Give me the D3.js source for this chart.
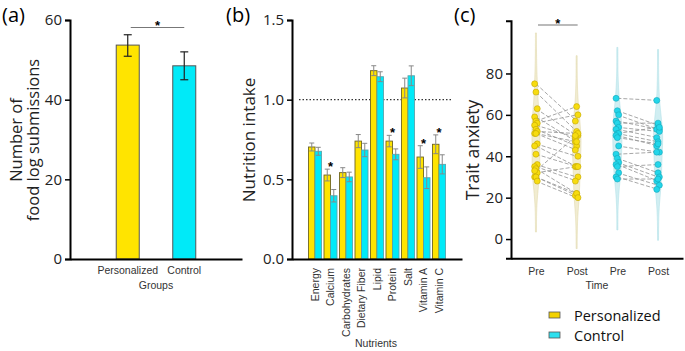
<!DOCTYPE html>
<html>
<head>
<meta charset="utf-8">
<script src="https://cdn.jsdelivr.net/npm/d3@7"></script>
<style>
  body { margin: 0; background: #fff; }
  svg { display: block; }
  .tick line { stroke: #000; stroke-width: 1.5; }
  .domain { stroke: #000; stroke-width: 2; }
</style>
</head>
<body>
<script>
// ---- data ----
var groups = ["Personalized", "Control"];
var subMean = [53.7, 48.5];
var subLow = [50.9, 45.0];
var subHigh = [56.3, 52.0];

var nutrients = ["Energy", "Calcium", "Carbohydrates", "Dietary Fiber", "Lipid", "Protein", "Salt", "Vitamin A", "Vitamin C"];
var persMean = [0.703, 0.527, 0.542, 0.740, 1.182, 0.740, 1.073, 0.640, 0.720];
var persErr = [0.025, 0.037, 0.031, 0.041, 0.031, 0.036, 0.062, 0.071, 0.059];
var ctrlMean = [0.676, 0.397, 0.515, 0.684, 1.144, 0.657, 1.150, 0.510, 0.594];
var ctrlErr = [0.025, 0.039, 0.030, 0.042, 0.031, 0.034, 0.062, 0.068, 0.060];
var sigNutrients = ["Calcium", "Protein", "Vitamin A", "Vitamin C"];

var timeLabels = ["Pre", "Post", "Pre", "Post"];
var persPre  = [75, 71, 63, 59, 57, 56, 55, 53, 52, 51, 51, 46, 45, 41, 36, 35, 34, 32, 30, 30, 28, 33];
var persPost = [57, 52, 50, 47, 64, 60, 49, 45, 51, 43, 47, 40, 35, 35, 30, 28, 22, 35, 21, 22, 20, 50];
var ctrlPre  = [68, 62, 60, 57, 56, 54, 53, 51, 51, 50, 49, 45, 41, 39, 37, 36, 35, 32, 30, 29];
var ctrlPost = [67, 55, 53, 53, 56, 52, 49, 47, 54, 45, 46, 42, 42, 32, 30, 28, 36, 26, 24, 29];

var yellow = "#ffe400";
var cyan = "#00eaf8";

var w = 685, h = 351;
var bigFont = "'Open Sans', 'Noto Sans', sans-serif";
var smallFont = "'Liberation Sans', Arial, sans-serif";

var svg = d3.select("body").append("svg")
    .attr("width", w)
    .attr("height", h);

function star(g, x, y) {
  g.append("text")
    .attr("x", x)
    .attr("y", y + 7)
    .attr("text-anchor", "middle")
    .style("font-family", smallFont)
    .style("font-weight", "bold")
    .style("font-size", "13px")
    .text("*");
}

function panelLabel(x, txt) {
  svg.append("text")
    .attr("x", x)
    .attr("y", 22)
    .style("font-family", bigFont)
    .style("font-size", "20px")
    .text(txt);
}

function styleTicks(g) {
  g.selectAll(".tick text")
    .style("font-family", bigFont)
    .style("font-size", "15px")
    .attr("fill", "#222");
}

// ---- panel (a) ----
var ga = svg.append("g");
var xA = d3.scaleBand().domain(groups).range([70, 242]).paddingInner(0.593).paddingOuter(0.818);
var yA = d3.scaleLinear().domain([0, 60]).range([259, 20]);

ga.selectAll("rect")
  .data(groups)
  .enter()
  .append("rect")
  .attr("x", function(d) { return xA(d); })
  .attr("y", function(d, i) { return yA(subMean[i]); })
  .attr("width", xA.bandwidth())
  .attr("height", function(d, i) { return yA(0) - yA(subMean[i]); })
  .attr("fill", function(d, i) { return i == 0 ? yellow : cyan; })
  .attr("stroke", "#555")
  .attr("stroke-width", 1);

groups.forEach(function(d, i) {
  var cx = xA(d) + xA.bandwidth() / 2;
  ga.append("line").attr("x1", cx).attr("x2", cx)
    .attr("y1", yA(subLow[i])).attr("y2", yA(subHigh[i]))
    .attr("stroke", "#222").attr("stroke-width", 1.2);
  [subLow[i], subHigh[i]].forEach(function(v) {
    ga.append("line").attr("x1", cx - 4).attr("x2", cx + 4)
      .attr("y1", yA(v)).attr("y2", yA(v))
      .attr("stroke", "#222").attr("stroke-width", 1.2);
  });
});

var axA = ga.append("g")
  .attr("transform", "translate(70,0)")
  .call(d3.axisLeft(yA).tickValues([0, 20, 40, 60]).tickSizeOuter(0).tickSize(5).tickPadding(3));
styleTicks(axA);

var axAx = ga.append("g")
  .attr("transform", "translate(0,259)")
  .call(d3.axisBottom(xA).tickSize(0).tickSizeOuter(0).tickPadding(8));
axAx.selectAll(".tick text")
  .style("font-family", smallFont)
  .style("font-size", "10.5px")
  .attr("fill", "#333");

ga.append("text")
  .attr("x", 156).attr("y", 289)
  .attr("text-anchor", "middle")
  .style("font-family", smallFont)
  .style("font-size", "10.5px")
  .attr("fill", "#333")
  .text("Groups");

ga.append("text")
  .attr("transform", "translate(22,140) rotate(-90)")
  .attr("text-anchor", "middle")
  .style("font-family", bigFont)
  .style("font-size", "16.5px")
  .attr("fill", "#222")
  .text("Number of");
ga.append("text")
  .attr("transform", "translate(39,140) rotate(-90)")
  .attr("text-anchor", "middle")
  .style("font-family", bigFont)
  .style("font-size", "16.5px")
  .attr("fill", "#222")
  .text("food log submissions");

var sigAx1 = xA(groups[0]) + xA.bandwidth() / 2 + 3;
var sigAx2 = xA(groups[1]) + xA.bandwidth() / 2;
ga.append("line").attr("x1", sigAx1).attr("x2", sigAx2)
  .attr("y1", 27.5).attr("y2", 27.5)
  .attr("stroke", "#777").attr("stroke-width", 1.2);
star(ga, (sigAx1 + sigAx2) / 2, 23);

panelLabel(2, "(a)");

// ---- panel (b) ----
var gb = svg.append("g");
var xB = d3.scaleBand().domain(nutrients).range([292, 462]).paddingInner(0.161).paddingOuter(1.065);
var xB2 = d3.scaleBand().domain(groups).range([0, xB.bandwidth()]);
var yB = d3.scaleLinear().domain([0, 1.5]).range([259, 20]);

gb.append("line")
  .attr("x1", 299).attr("x2", 453)
  .attr("y1", yB(1)).attr("y2", yB(1))
  .attr("stroke", "#333").attr("stroke-width", 1.2)
  .attr("stroke-dasharray", "1.5,2");

var seriesB = [
  { name: "Personalized", mean: persMean, err: persErr, fill: yellow, stroke: "#6f6520" },
  { name: "Control", mean: ctrlMean, err: ctrlErr, fill: cyan, stroke: "#5aa6ad" }
];

seriesB.forEach(function(s) {
  gb.append("g").selectAll("rect")
    .data(nutrients)
    .enter()
    .append("rect")
    .attr("x", function(d) { return xB(d) + xB2(s.name); })
    .attr("y", function(d, i) { return yB(s.mean[i]); })
    .attr("width", xB2.bandwidth())
    .attr("height", function(d, i) { return yB(0) - yB(s.mean[i]); })
    .attr("fill", s.fill)
    .attr("stroke", s.stroke)
    .attr("stroke-width", 0.9);

  nutrients.forEach(function(d, i) {
    var cx = xB(d) + xB2(s.name) + xB2.bandwidth() / 2;
    var lo = yB(s.mean[i] - s.err[i]), hi = yB(s.mean[i] + s.err[i]);
    gb.append("line").attr("x1", cx).attr("x2", cx).attr("y1", lo).attr("y2", hi)
      .attr("stroke", "#888").attr("stroke-width", 1);
    gb.append("line").attr("x1", cx - 2.5).attr("x2", cx + 2.5).attr("y1", lo).attr("y2", lo)
      .attr("stroke", "#888").attr("stroke-width", 1);
    gb.append("line").attr("x1", cx - 2.5).attr("x2", cx + 2.5).attr("y1", hi).attr("y2", hi)
      .attr("stroke", "#888").attr("stroke-width", 1);
  });
});

sigNutrients.forEach(function(n) {
  var i = nutrients.indexOf(n);
  star(gb, xB(n) + xB.bandwidth() / 2, yB(persMean[i] + persErr[i]) - 5);
});

var axB = gb.append("g")
  .attr("transform", "translate(292,0)")
  .call(d3.axisLeft(yB).tickValues([0, 0.5, 1.0, 1.5]).tickFormat(d3.format(".1f")).tickSizeOuter(0).tickSize(5).tickPadding(3));
styleTicks(axB);

var axBx = gb.append("g")
  .attr("transform", "translate(0,259)")
  .call(d3.axisBottom(xB).tickSize(0).tickSizeOuter(0));
axBx.selectAll(".tick text")
  .attr("transform", "rotate(-90)")
  .attr("x", -9)
  .attr("y", 0)
  .attr("dy", "0.35em")
  .style("text-anchor", "end")
  .style("font-family", smallFont)
  .style("font-size", "10.5px")
  .attr("fill", "#333");

gb.append("text")
  .attr("x", 376).attr("y", 347)
  .attr("text-anchor", "middle")
  .style("font-family", smallFont)
  .style("font-size", "10.5px")
  .attr("fill", "#333")
  .text("Nutrients");

gb.append("text")
  .attr("transform", "translate(255,140) rotate(-90)")
  .attr("text-anchor", "middle")
  .style("font-family", bigFont)
  .style("font-size", "17px")
  .attr("fill", "#222")
  .text("Nutrition intake");

panelLabel(226, "(b)");

// ---- panel (c) ----
var gc = svg.append("g");
var slots = ["Pre1", "Post1", "Pre2", "Post2"];
var xC = d3.scalePoint().domain(slots).range([511, 683]).padding(0.613);
var yC = d3.scaleLinear().domain([-9.3, 105.5]).range([258.3, 20.7]);

var cols = [
  { slot: "Pre1", vals: persPre, pt: "#f7dc10", ptStroke: "#c2a600", vio: "#f1ecd0", vioStroke: "#e0d8ac" },
  { slot: "Post1", vals: persPost, pt: "#f7dc10", ptStroke: "#c2a600", vio: "#f1ecd0", vioStroke: "#e0d8ac" },
  { slot: "Pre2", vals: ctrlPre, pt: "#22d6ea", ptStroke: "#14a8ba", vio: "#d0eef2", vioStroke: "#b2e0e7" },
  { slot: "Post2", vals: ctrlPost, pt: "#22d6ea", ptStroke: "#14a8ba", vio: "#d0eef2", vioStroke: "#b2e0e7" }
];

var bw = 8.2;
function kde(vals, t) {
  return d3.mean(vals, function(v) {
    var z = (t - v) / bw;
    return Math.exp(-0.5 * z * z);
  }) / (bw * Math.sqrt(2 * Math.PI));
}

var dens = cols.map(function(c) {
  var lo = d3.min(c.vals) - 3 * bw, hi = d3.max(c.vals) + 3 * bw;
  var pts = d3.range(lo, hi, 0.5).concat([hi]);
  return pts.map(function(t) { return [t, kde(c.vals, t)]; });
});
var maxD = d3.max(dens, function(d) { return d3.max(d, function(p) { return p[1]; }); });
var wScale = d3.scaleLinear().domain([0, maxD]).range([0.5, 4.6]);

cols.forEach(function(c, k) {
  var cx = xC(c.slot);
  var area = d3.area()
    .y(function(p) { return yC(p[0]); })
    .x0(function(p) { return cx - wScale(p[1]); })
    .x1(function(p) { return cx + wScale(p[1]); })
    .curve(d3.curveBasis);
  gc.append("path")
    .attr("d", area(dens[k]))
    .attr("fill", c.vio)
    .attr("stroke", c.vioStroke)
    .attr("stroke-width", 0.6);
});

// paired lines
[[0, 1], [2, 3]].forEach(function(pair) {
  var a = cols[pair[0]], b = cols[pair[1]];
  a.vals.forEach(function(v, i) {
    gc.append("line")
      .attr("x1", xC(a.slot)).attr("x2", xC(b.slot))
      .attr("y1", yC(v)).attr("y2", yC(b.vals[i]))
      .attr("stroke", "#999").attr("stroke-width", 1)
      .attr("stroke-dasharray", "4,2")
      .attr("opacity", 0.85);
  });
});

cols.forEach(function(c) {
  gc.append("g").selectAll("circle")
    .data(c.vals)
    .enter()
    .append("circle")
    .attr("cx", function(d, i) { return xC(c.slot) + ((i % 3) - 1) * 1.3; })
    .attr("cy", function(d) { return yC(d); })
    .attr("r", 3)
    .attr("fill", c.pt)
    .attr("stroke", c.ptStroke)
    .attr("stroke-width", 0.6);
});

var axC = gc.append("g")
  .attr("transform", "translate(511,0)")
  .call(d3.axisLeft(yC).tickValues([0, 20, 40, 60, 80]).tickSizeOuter(0).tickSize(5).tickPadding(3));
styleTicks(axC);

var axCx = gc.append("g")
  .attr("transform", "translate(0,258.3)")
  .call(d3.axisBottom(xC).tickSize(0).tickSizeOuter(0).tickPadding(9)
    .tickFormat(function(d, i) { return timeLabels[i]; }));
axCx.selectAll(".tick text")
  .style("font-family", smallFont)
  .style("font-size", "10.5px")
  .attr("fill", "#333");

gc.append("text")
  .attr("x", 597).attr("y", 289)
  .attr("text-anchor", "middle")
  .style("font-family", smallFont)
  .style("font-size", "10.5px")
  .attr("fill", "#333")
  .text("Time");

gc.append("text")
  .attr("transform", "translate(479,150) rotate(-90)")
  .attr("text-anchor", "middle")
  .style("font-family", bigFont)
  .style("font-size", "17.5px")
  .attr("fill", "#222")
  .text("Trait anxiety");

var sc1 = xC("Pre1") + 2, sc2 = xC("Post1") + 1;
gc.append("line").attr("x1", sc1).attr("x2", sc2)
  .attr("y1", 25).attr("y2", 25)
  .attr("stroke", "#777").attr("stroke-width", 1.2);
star(gc, (sc1 + sc2) / 2, 21);

panelLabel(454, "(c)");

// ---- legend ----
var lg = svg.append("g").attr("transform", "translate(549,308)");
groups.forEach(function(g, i) {
  lg.append("rect")
    .attr("x", 0).attr("y", i * 20 + 4)
    .attr("width", 11).attr("height", 6)
    .attr("fill", i == 0 ? "#f3d200" : "#2ee0ee")
    .attr("stroke", "#555").attr("stroke-width", 0.8);
  lg.append("text")
    .attr("x", 25).attr("y", i * 20 + 12.5)
    .style("font-family", bigFont)
    .style("font-size", "14.5px")
    .attr("fill", "#111")
    .text(g);
});
</script>
</body>
</html>
